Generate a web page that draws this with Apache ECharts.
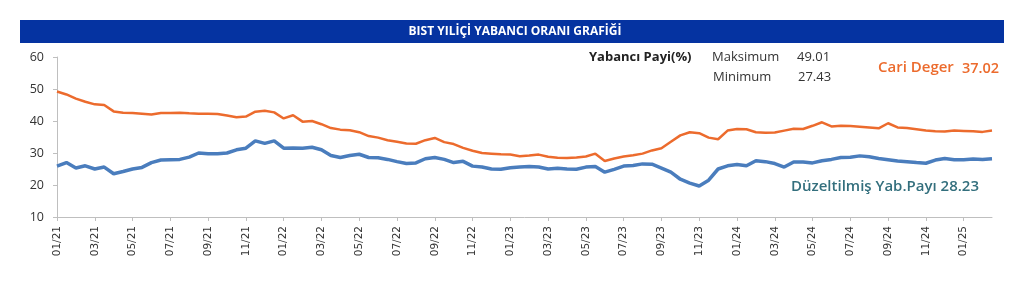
<!DOCTYPE html>
<html>
<head>
<meta charset="utf-8">
<script src="https://cdn.jsdelivr.net/npm/echarts@6/dist/echarts.min.js"></script>
<style>
  html, body { margin: 0; padding: 0; background: #fff; }
  #chart { width: 1024px; height: 296px; }
</style>
</head>
<body>
<div id="chart"></div>
<script>
// yarim aylik noktalar: her ayin 1'i ve 15'i, 01/2021 - 02/2025
const startYear = 2021
const monthCount = 50
const pointDays = ['01', '15']

// Cari Deger (%)
const cariDeger = [
  49.2, 48.3, 47.0, 46.0, 45.2, 45.0, 43.0, 42.6, 42.5, 42.3,
  42.0, 42.5, 42.5, 42.6, 42.4, 42.3, 42.3, 42.2, 41.7, 41.2,
  41.4, 42.9, 43.2, 42.7, 40.8, 41.8, 39.8, 40.0, 39.0, 37.8,
  37.3, 37.1, 36.5, 35.3, 34.8, 34.0, 33.5, 33.0, 32.9, 34.0,
  34.7, 33.4, 32.8, 31.6, 30.7, 30.0, 29.8, 29.6, 29.5, 29.0,
  29.2, 29.5, 28.8, 28.5, 28.4, 28.6, 28.9, 29.8, 27.5, 28.3,
  28.9, 29.3, 29.8, 30.8, 31.5, 33.5, 35.5, 36.5, 36.2, 34.8,
  34.3, 37.0, 37.5, 37.4, 36.5, 36.3, 36.4, 37.0, 37.6, 37.5,
  38.5, 39.6, 38.3, 38.5, 38.4, 38.2, 38.0, 37.7, 39.3, 38.0,
  37.8, 37.4, 37.0, 36.8, 36.7, 37.0, 36.9, 36.8, 36.6, 37.02
]

// Duzeltilmis Yabanci Payi (%)
const duzeltilmis = [
  25.9, 27.0, 25.3, 26.0, 25.0, 25.6, 23.5, 24.2, 25.0, 25.5,
  27.0, 27.8, 27.9, 28.0, 28.7, 30.0, 29.8, 29.8, 30.0, 31.0,
  31.5, 33.8, 33.0, 33.8, 31.5, 31.6, 31.5, 31.8, 31.0, 29.2,
  28.6, 29.2, 29.6, 28.6, 28.5, 28.0, 27.3, 26.7, 26.9, 28.2,
  28.6, 28.0, 27.0, 27.4, 25.9, 25.6, 25.0, 24.9, 25.4, 25.6,
  25.8, 25.6, 25.0, 25.2, 25.0, 24.9, 25.6, 25.8, 24.0, 24.9,
  25.9, 26.1, 26.6, 26.5, 25.3, 24.0, 21.8, 20.6, 19.7, 21.5,
  25.0, 26.0, 26.4, 26.0, 27.6, 27.3, 26.7, 25.6, 27.2, 27.2,
  26.9, 27.6, 28.0, 28.6, 28.7, 29.1, 28.8, 28.3, 27.9, 27.5,
  27.3, 27.0, 26.8, 27.8, 28.3, 27.9, 27.9, 28.1, 28.0, 28.23
]

const yTicks = [10, 20, 30, 40, 50, 60]

const statLabels = ['Maksimum', 'Minimum']
const statValues = ['49.01', '27.43']

const dates = []
for (let m = 0; m < monthCount; m++) {
  const y = startYear + Math.floor(m / 12)
  const mm = String(m % 12 + 1).padStart(2, '0')
  pointDays.forEach(d => dates.push(y + '-' + mm + '-' + d))
}

// sadece tek aylarin ilk gunu etiketlenir
const showTick = (index, value) => {
  const parts = value.split('-')
  return parts[2] === '01' && Number(parts[1]) % 2 === 1
}

const orange = '#ec6b2d'
const blue = '#4a7dbd'

let option = {
  animation: false,
  grid: {
    left: 57,
    right: 32,
    top: 57,
    bottom: 79
  },
  xAxis: {
    type: 'category',
    boundaryGap: false,
    data: dates,
    axisLine: { lineStyle: { color: '#bfbfbf', width: 1 } },
    axisTick: {
      interval: showTick,
      length: 4,
      lineStyle: { color: '#bfbfbf' }
    },
    axisLabel: {
      interval: showTick,
      rotate: 90,
      margin: 9,
      color: '#333',
      fontFamily: 'DejaVu Sans',
      fontSize: 10.5,
      formatter: (value) => {
        const parts = value.split('-')
        return parts[1] + '/' + parts[0].slice(2)
      }
    },
    splitLine: { show: false }
  },
  yAxis: {
    type: 'value',
    min: yTicks[0],
    max: yTicks[yTicks.length - 1],
    interval: 10,
    axisLine: { show: true, lineStyle: { color: '#bfbfbf', width: 1 } },
    axisTick: { show: true, length: 4, lineStyle: { color: '#bfbfbf' } },
    axisLabel: {
      color: '#333',
      fontFamily: 'Open Sans',
      fontSize: 12.5,
      margin: 13
    },
    splitLine: { show: false }
  },
  series: [
    {
      name: 'Cari Deger',
      type: 'line',
      data: cariDeger,
      showSymbol: false,
      lineStyle: { color: orange, width: 2.5 },
      itemStyle: { color: orange }
    },
    {
      name: 'Düzeltilmiş Yab.Payı',
      type: 'line',
      data: duzeltilmis,
      showSymbol: false,
      lineStyle: { color: blue, width: 3.5 },
      itemStyle: { color: blue }
    }
  ],
  graphic: [
    {
      type: 'rect',
      shape: { x: 20, y: 20, width: 984, height: 23 },
      style: { fill: '#0533a1' }
    },
    {
      type: 'text',
      x: 515,
      y: 32,
      style: {
        text: 'BIST YILİÇİ YABANCI ORANI GRAFİĞİ',
        fill: '#fff',
        font: 'bold 12px "Liberation Sans Narrow", "Open Sans"',
        align: 'center',
        verticalAlign: 'middle'
      }
    },
    {
      type: 'text',
      x: 589,
      y: 57,
      style: {
        text: 'Yabancı Payi(%)',
        fill: '#222',
        font: 'bold 13px "Open Sans"',
        verticalAlign: 'middle'
      }
    },
    {
      type: 'text',
      x: 712,
      y: 57,
      style: {
        text: statLabels[0],
        fill: '#333',
        font: '13px "Open Sans"',
        verticalAlign: 'middle'
      }
    },
    {
      type: 'text',
      x: 797,
      y: 57,
      style: {
        text: statValues[0],
        fill: '#333',
        font: '13px "Open Sans"',
        verticalAlign: 'middle'
      }
    },
    {
      type: 'text',
      x: 713,
      y: 77,
      style: {
        text: statLabels[1],
        fill: '#333',
        font: '13px "Open Sans"',
        verticalAlign: 'middle'
      }
    },
    {
      type: 'text',
      x: 798,
      y: 77,
      style: {
        text: statValues[1],
        fill: '#333',
        font: '13px "Open Sans"',
        verticalAlign: 'middle'
      }
    },
    {
      type: 'text',
      x: 878,
      y: 68,
      style: {
        text: 'Cari Deger',
        fill: orange,
        font: '600 15px "Open Sans"',
        verticalAlign: 'middle'
      }
    },
    {
      type: 'text',
      x: 962,
      y: 69,
      style: {
        text: cariDeger[cariDeger.length - 1].toFixed(2),
        fill: orange,
        font: '600 14.5px "Open Sans"',
        verticalAlign: 'middle'
      }
    },
    {
      type: 'text',
      x: 791,
      y: 187,
      style: {
        text: 'Düzeltilmiş Yab.Payı ' + duzeltilmis[duzeltilmis.length - 1].toFixed(2),
        fill: '#336f7d',
        font: '600 15px "Open Sans"',
        verticalAlign: 'middle'
      }
    }
  ]
}

const myChart = echarts.init(document.getElementById('chart'))

myChart.setOption(option, true)
</script>
</body>
</html>
